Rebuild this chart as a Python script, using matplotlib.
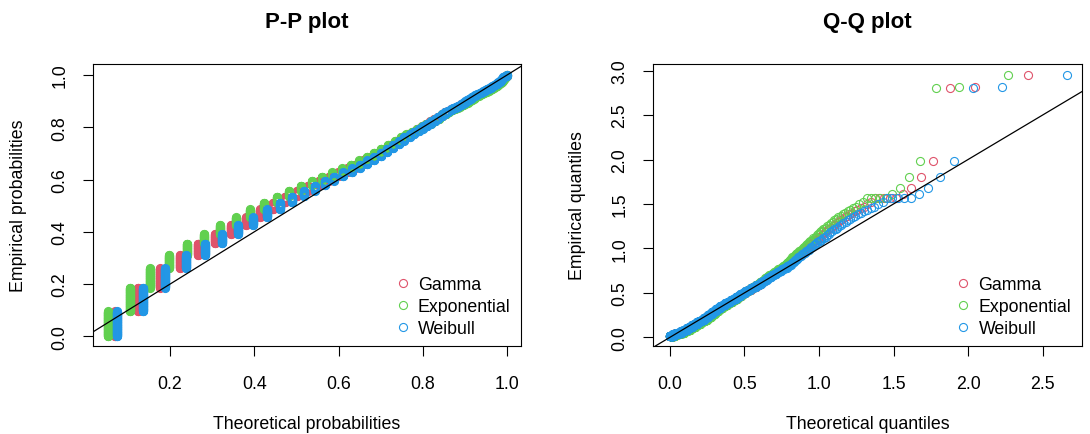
import math
import numpy as np
import matplotlib
matplotlib.use("Agg")
import matplotlib.pyplot as plt
from matplotlib.lines import Line2D

# ---- observed data: tied durations (minutes) and how often each occurs ----
minutes = [1, 2, 3, 4, 5, 6, 7, 8, 9, 10,
           11, 12, 13, 14, 15, 16, 17, 18, 19, 20,
           21, 22, 23, 24, 25, 26, 27, 28, 29, 30,
           31, 32, 33, 34, 35, 36, 37, 38, 39, 40,
           41, 42, 43, 44, 45, 46, 47, 48, 49, 50,
           51, 52, 53, 54, 55, 56, 57, 58, 59, 60,
           61, 62, 63, 64, 65, 66, 67, 68, 69, 70,
           71, 72, 73, 74, 75, 76, 77, 78,
           79, 80, 81, 82, 83, 84, 85, 86, 87, 88, 90, 91,
           94, 97, 101, 108, 119, 168, 169, 177]
counts = [86, 81, 67, 45, 40, 32, 31, 27, 27, 23,
          21, 20, 18, 16, 15, 14, 14, 13, 14, 13,
          14, 14, 13, 13, 13, 10, 9, 9, 9, 8,
          9, 8, 8, 8, 8, 5, 5, 4, 4, 4,
          5, 5, 5, 4, 4, 4, 4, 3, 3, 2,
          2, 2, 2, 2, 2, 2, 2, 2, 2, 1,
          2, 1, 2, 1, 2, 1, 2, 1, 1, 1,
          1, 1, 2, 1, 1, 1, 1, 1,
          1, 1, 1, 1, 1, 1, 1, 1, 1, 1, 1, 1,
          5, 1, 1, 1, 1, 1, 1, 1]

# ---- fitted distributions (parameters) ----
dist_names = ["Gamma", "Exponential", "Weibull"]
dist_colors = ["#DF536B", "#61D04F", "#2297E6"]
gamma_shape, gamma_rate = 0.9, 3.0
exp_rate = 3.3
weib_shape, weib_scale = 0.9, 0.284

pp_xticks = [0.2, 0.4, 0.6, 0.8, 1.0]
pp_yticks = [0.0, 0.2, 0.4, 0.6, 0.8, 1.0]
qq_xticks = [0.0, 0.5, 1.0, 1.5, 2.0, 2.5]
qq_yticks = [0.0, 0.5, 1.0, 1.5, 2.0, 2.5, 3.0]


def gamma_cdf(x, a, rate):
    z = np.asarray(x, float) * rate
    out = np.zeros_like(z)
    pos = z > 0
    zz = z[pos]
    term = np.ones_like(zz)
    s = np.ones_like(zz)
    for k in range(1, 400):
        term = term * zz / (a + k)
        s = s + term
    logpref = a * np.log(zz) - zz - math.lgamma(a + 1)
    out[pos] = np.exp(logpref) * s
    return np.clip(out, 0, 1)


def gamma_ppf(p, a, rate):
    grid = np.logspace(-10, math.log10(8.0), 40000)
    cdf = gamma_cdf(grid, a, rate)
    return np.interp(p, cdf, grid)


obs = np.repeat(np.array(minutes, float) / 60.0, counts)
n = obs.size
ppts = (np.arange(1, n + 1) - 0.5) / n

theo_p = [gamma_cdf(obs, gamma_shape, gamma_rate),
          1 - np.exp(-exp_rate * obs),
          1 - np.exp(-(obs / weib_scale) ** weib_shape)]
theo_q = [gamma_ppf(ppts, gamma_shape, gamma_rate),
          -np.log(1 - ppts) / exp_rate,
          weib_scale * (-np.log(1 - ppts)) ** (1 / weib_shape)]

plt.rcParams['font.family'] = ['Liberation Sans', 'DejaVu Sans']
FS = 12.8
plt.rcParams['font.size'] = FS

fig = plt.figure(figsize=(10.9, 4.35), dpi=100)
ax1 = fig.add_axes([93 / 1090, 1 - 347 / 435, 428 / 1090, 282 / 435])
ax2 = fig.add_axes([653 / 1090, 1 - 347 / 435, 429 / 1090, 282 / 435])

ms, mew = 5.8, 0.8
for i in range(3):
    ax1.plot(theo_p[i], ppts, 'o', mfc='none', mec=dist_colors[i], ms=ms, mew=mew)
    ax2.plot(theo_q[i], obs, 'o', mfc='none', mec=dist_colors[i], ms=ms, mew=mew)

for ax in (ax1, ax2):
    ax.axline((0, 0), slope=1, color='black', lw=0.9)

ax1.set_xlim(0.017, 1.033)
ax1.set_ylim(-0.037, 1.042)
ax2.set_xlim(-0.114, 2.765)
ax2.set_ylim(-0.098, 3.075)

ax1.set_xticks(pp_xticks)
ax1.set_xticklabels([f"{v:.1f}" for v in pp_xticks])
ax1.set_yticks(pp_yticks)
ax1.set_yticklabels([f"{v:.1f}" for v in pp_yticks])
ax2.set_xticks(qq_xticks)
ax2.set_xticklabels([f"{v:.1f}" for v in qq_xticks])
ax2.set_yticks(qq_yticks)
ax2.set_yticklabels([f"{v:.1f}" for v in qq_yticks])

titles = ["P-P plot", "Q-Q plot"]
xlabels = ["Theoretical probabilities", "Theoretical quantiles"]
ylabels = ["Empirical probabilities", "Empirical quantiles"]
for ax, t, xl, yl in zip((ax1, ax2), titles, xlabels, ylabels):
    for sp in ax.spines.values():
        sp.set_linewidth(0.8)
    ax.tick_params(axis='both', direction='out', length=7.2, width=0.8,
                   labelsize=FS, colors='black')
    ax.tick_params(axis='x', pad=13.5)
    ax.tick_params(axis='y', pad=10.5, labelrotation=90)
    plt.setp(ax.get_yticklabels(), va='center')
    ax.set_title(t, fontsize=16, fontweight='bold', pad=0, y=1.13)
    ax.set_xlabel(xl, fontsize=FS)
    ax.xaxis.set_label_coords(0.5, -0.245)
    ax.set_ylabel(yl, fontsize=FS, va='center')
    ax.yaxis.set_label_coords(-0.175, 0.5)
    handles = [Line2D([], [], ls='none', marker='o', mfc='none', mec=c, ms=ms, mew=mew)
               for c in dist_colors]
    ax.legend(handles, dist_names, loc='upper left', bbox_to_anchor=(0.703, 0.249),
              frameon=False, borderpad=0, borderaxespad=0, handlelength=1.0,
              handletextpad=0.35, labelspacing=0.29, fontsize=FS)

fig.savefig("out.png", dpi=100)
